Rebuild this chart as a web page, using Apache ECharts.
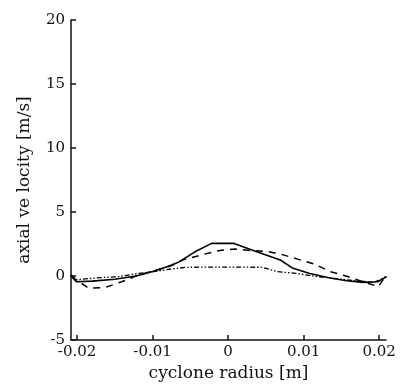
<!DOCTYPE html>
<html>
<head>
<meta charset="utf-8">
<script src="https://cdn.jsdelivr.net/npm/echarts@6/dist/echarts.min.js"></script>
<style>
  html, body { margin: 0; padding: 0; background: #fff; }
  #chart { width: 402px; height: 392px; }
</style>
</head>
<body>
<div id="chart"></div>
<script>
// tick positions
const xTicks = [-0.02, -0.01, 0, 0.01, 0.02];

// axial velocity profiles [radius m, velocity m/s]
const solidLine = [
  [-0.0208, 0], [-0.0201, -0.45], [-0.018, -0.4], [-0.015, -0.25], [-0.0122, 0],
  [-0.01, 0.35], [-0.008, 0.75], [-0.0065, 1.1], [-0.0045, 1.85], [-0.0022, 2.55],
  [0.0007, 2.55], [0.0038, 1.9], [0.0069, 1.25], [0.0086, 0.6], [0.0108, 0.2],
  [0.0135, -0.15], [0.0157, -0.37], [0.0179, -0.5], [0.0198, -0.45], [0.021, -0.05]
];
const dashedLine = [
  [-0.0208, 0], [-0.0185, -0.95], [-0.0163, -0.9], [-0.0141, -0.45], [-0.0122, 0],
  [-0.0075, 0.8], [-0.006, 1.25], [-0.0032, 1.7], [-0.0011, 2.0], [0.0009, 2.1],
  [0.0029, 2.0], [0.0053, 1.9], [0.0073, 1.65], [0.0093, 1.3], [0.0114, 0.94],
  [0.0135, 0.34], [0.0156, 0], [0.0178, -0.44], [0.0199, -0.83], [0.0205, -0.3], [0.021, 0]
];
const dotLine = [
  [-0.0208, 0.1], [-0.0201, -0.3], [-0.0175, -0.15], [-0.0145, -0.05], [-0.0125, 0.15],
  [-0.0099, 0.34], [-0.0075, 0.55], [-0.0055, 0.68], [0, 0.7], [0.0045, 0.68],
  [0.0065, 0.34], [0.0091, 0.2], [0.0112, 0], [0.0157, -0.3], [0.0192, -0.5],
  [0.0201, -0.3], [0.021, 0]
];

const font = "DejaVu Serif";

const option = {
  animation: false,
  backgroundColor: "#fff",
  grid: { left: 71, right: 16, top: 20, bottom: 52 },
  xAxis: {
    type: "value",
    min: -0.0208,
    max: 0.0209,
    name: "cyclone radius [m]",
    nameLocation: "middle",
    nameGap: 21,
    nameTextStyle: { fontFamily: font, fontSize: 17, color: "#111" },
    axisLine: { show: true, onZero: false, lineStyle: { color: "#111", width: 1.5 } },
    axisTick: { show: true, inside: true, length: 5, customValues: xTicks, lineStyle: { color: "#111", width: 1.5 } },
    axisLabel: { customValues: xTicks, fontFamily: font, fontSize: 15, color: "#111", margin: 5,
      formatter: (v) => String(Math.round(v * 100) / 100) },
    splitLine: { show: false }
  },
  yAxis: {
    type: "value",
    min: -5,
    max: 20,
    interval: 5,
    name: "axial ve locity [m/s]",
    nameLocation: "middle",
    nameGap: 38,
    nameTextStyle: { fontFamily: font, fontSize: 17, color: "#111" },
    axisLine: { show: true, onZero: false, lineStyle: { color: "#111", width: 1.5 } },
    axisTick: { show: true, inside: true, length: 5, lineStyle: { color: "#111", width: 1.5 } },
    axisLabel: { fontFamily: font, fontSize: 15, color: "#111", margin: 6 },
    splitLine: { show: false }
  },
  series: [
    {
      type: "line", data: solidLine, symbol: "none",
      lineStyle: { color: "#000", width: 1.6, type: "solid" }
    },
    {
      type: "line", data: dashedLine, symbol: "none",
      lineStyle: { color: "#000", width: 1.5, type: [7, 6] }
    },
    {
      type: "line", data: dotLine, symbol: "none",
      lineStyle: { color: "#000", width: 1.3, type: [5, 2, 1.5, 2, 1.5, 2] }
    }
  ]
};

const myChart = echarts.init(document.getElementById("chart"));
myChart.setOption(option);
</script>
</body>
</html>
